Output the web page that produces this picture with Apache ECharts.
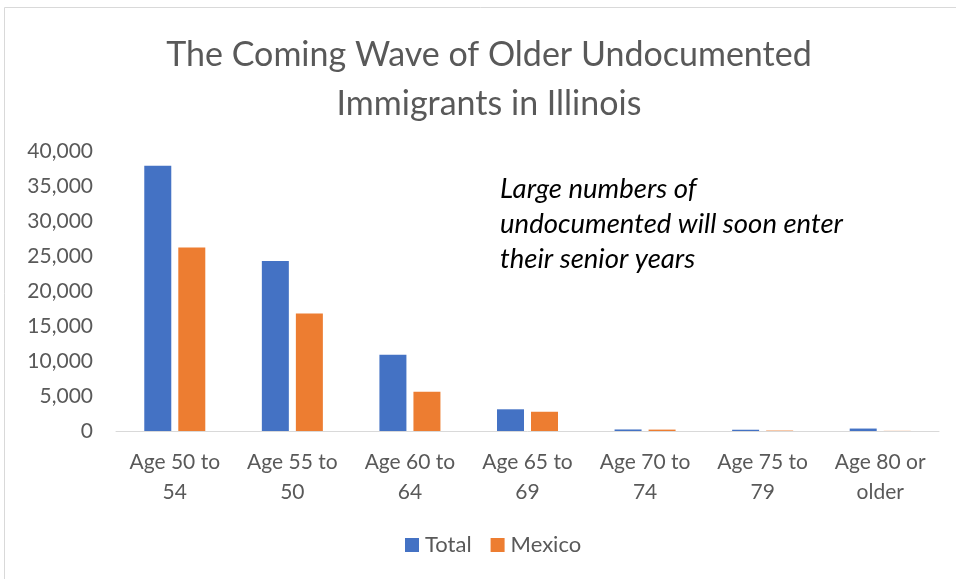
<!DOCTYPE html>
<html><head><meta charset="utf-8">
<script src="https://cdn.jsdelivr.net/npm/echarts@6/dist/echarts.min.js"></script>
<style>html,body{margin:0;padding:0;background:#fff}#c{width:956px;height:579px}</style>
</head><body><div id="c"></div>
<script>
const categories = ['Age 50 to\n54','Age 55 to\n50','Age 60 to\n64','Age 65 to\n69','Age 70 to\n74','Age 75 to\n79','Age 80 or\nolder'];
const totalValues = [37900, 24300, 10900, 3100, 220, 180, 350];
const mexicoValues = [26200, 16800, 5600, 2750, 200, 60, 20];
const yTicks = [0, 5000, 10000, 15000, 20000, 25000, 30000, 35000, 40000];
const titleText = 'The Coming Wave of Older Undocumented\nImmigrants in Illinois';
const noteText = 'Large numbers of\nundocumented will soon enter\ntheir senior years';
const FONT = 'Lato, "Open Sans", sans-serif';
const chart = echarts.init(document.getElementById('c'));
chart.setOption({
  animation: false,
  textStyle: {fontFamily: FONT},
  title: {text: titleText, left: 484, top: 26, textAlign: 'center',
    textStyle: {fontFamily: FONT, fontSize: 34, fontWeight: 'normal', color: '#595959', lineHeight: 49}},
  graphic: [
    {type: 'rect', shape: {x: 4.5, y: 7.5, width: 1000, height: 700}, style: {fill: 'none', stroke: '#d9d9d9', lineWidth: 1}, silent: true},
    {type: 'text', left: 500, top: 172, style: {text: noteText, fontFamily: FONT, fontStyle: 'italic', fontSize: 27.5, lineHeight: 35, fill: '#000'}}
  ],
  legend: {bottom: 18, left: 400, itemWidth: 14, itemHeight: 14, itemGap: 19, icon: 'rect',
    textStyle: {fontFamily: FONT, fontSize: 22, color: '#595959', padding: [0, 0, 0, 1]}},
  grid: {left: 116, right: 17, top: 151, bottom: 148, containLabel: false},
  xAxis: {type: 'category', data: categories,
    axisLine: {lineStyle: {color: '#d9d9d9', width: 1}}, axisTick: {show: false},
    axisLabel: {fontFamily: FONT, fontSize: 21, color: '#595959', lineHeight: 30, margin: 16, interval: 0}},
  yAxis: {type: 'value', min: 0, max: 40000, interval: 5000,
    splitLine: {show: false}, axisLine: {show: false}, axisTick: {show: false},
    axisLabel: {fontFamily: FONT, fontSize: 21, color: '#595959', margin: 23,
      formatter: v => yTicks.includes(v) ? v.toLocaleString('en-US') : ''}},
  series: [
    {name: 'Total', type: 'bar', data: totalValues, barWidth: 27, barGap: '26%', itemStyle: {color: '#4472c4'}},
    {name: 'Mexico', type: 'bar', data: mexicoValues, barWidth: 27, itemStyle: {color: '#ed7d31'}}
  ]
});
</script></body></html>
